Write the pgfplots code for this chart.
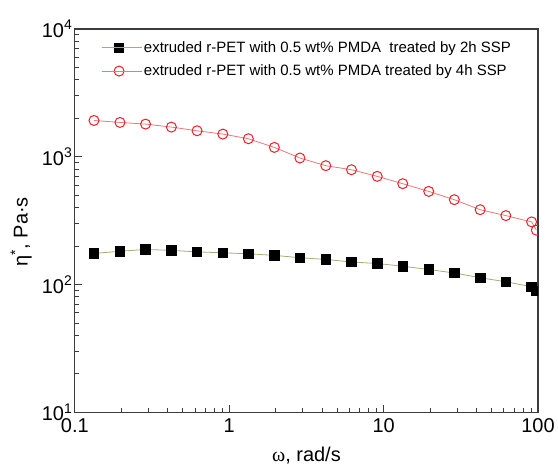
\documentclass[border=0pt]{standalone}
\usepackage{fontspec}
\setmainfont{Liberation Sans}
\newfontfamily\serif{Liberation Serif}
\usepackage{pgfplots}
\pgfplotsset{compat=1.18}

\definecolor{olive}{RGB}{170,170,115}
\definecolor{pinkline}{RGB}{236,120,120}
\definecolor{redmark}{RGB}{232,32,40}
\definecolor{axisgray}{RGB}{60,60,60}

\begin{document}
\begin{tikzpicture}
\begin{axis}[
    name=main,
    xmode=log, ymode=log,
    scale only axis,
    width=464pt, height=384pt,
    xmin=0.1, xmax=100,
    ymin=10, ymax=10000,
    axis line style={axisgray, line width=1.2pt},
    tick style={axisgray, line width=0.9pt},
    tick pos=left,
    tick align=inside,
    major tick length=7pt,
    minor tick length=4pt,
    xtick={0.1,1,10,100},
    xticklabels={0.1,1,10,100},
    ytick={10,100,1000,10000},
    yticklabels={10\textsuperscript{1},10\textsuperscript{2},10\textsuperscript{3},10\textsuperscript{4}},
    ticklabel style={font=\fontsize{20}{22}\selectfont},
    xticklabel style={yshift=-3pt},
    yticklabel style={xshift=1pt},
    xlabel={{\serif ω}, rad/s},
    ylabel={η\textsuperscript{*}, Pa·s},
    label style={font=\fontsize{20}{22}\selectfont},
    xlabel style={at={(axis description cs:0.5,-0.112)}, anchor=center},
    ylabel style={at={(axis description cs:-0.116,0.471)}, anchor=center},
    clip marker paths=true,
    legend cell align=left,
    legend style={draw=none, fill=none, at={(0.05,0.978)}, anchor=north west,
        font=\fontsize{15}{17}\selectfont, row sep=7pt},
    legend image code/.code={
        \draw[mark repeat=2, mark phase=2] plot coordinates {(0pt,0pt) (17.5pt,0pt) (35pt,0pt)};
        \path (0pt,0pt) -- (40pt,0pt);
    },
]
\addplot[olive, line width=0.8pt, mark=square*, mark size=4.8pt,
    mark options={black, fill=black, solid}] coordinates {
(0.133,175) (0.196,182) (0.287,188) (0.422,185) (0.619,180) (0.909,177)
(1.33,174) (1.96,169) (2.87,162) (4.22,157) (6.19,150) (9.09,146)
(13.3,139) (19.6,131) (28.7,123) (42.2,113) (61.9,105) (90.9,96) (97.5,89)
};
\addlegendentry{extruded r-PET with 0.5 wt\% PMDA\ \ treated by 2h SSP}
\addplot[pinkline, line width=0.8pt, mark=o, mark size=5pt,
    mark options={redmark, line width=1pt, fill=white, solid}] coordinates {
(0.133,1922) (0.196,1855) (0.287,1800) (0.422,1706) (0.619,1596) (0.909,1504)
(1.33,1383) (1.96,1183) (2.87,977) (4.22,851) (6.19,791) (9.09,702)
(13.3,615) (19.6,535) (28.7,461) (42.2,385) (61.9,346) (90.9,309) (97.5,266)
};
\addlegendentry{extruded r-PET with 0.5 wt\% PMDA treated by 4h SSP}
\end{axis}
\path ([xshift=-75pt,yshift=-57pt]main.south west) rectangle ([xshift=19pt,yshift=29pt]main.north east);
\end{tikzpicture}
\end{document}
